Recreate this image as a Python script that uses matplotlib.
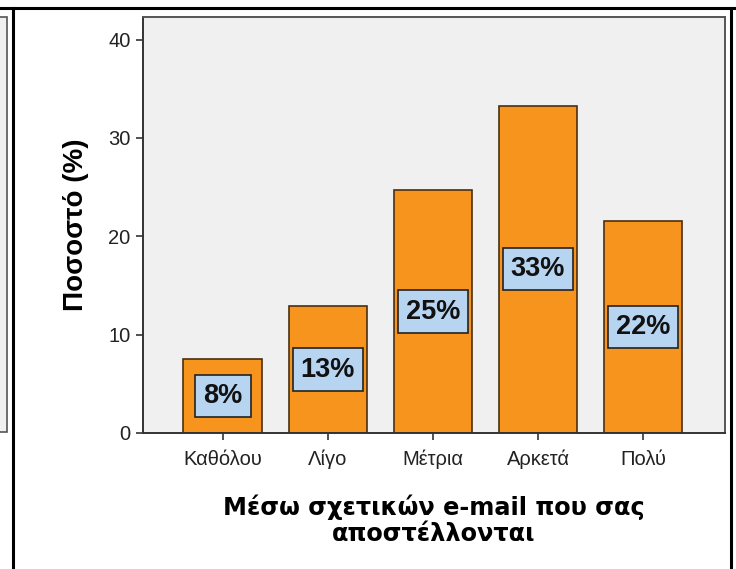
import matplotlib.pyplot as plt
import matplotlib.patches as patches
from matplotlib.lines import Line2D

plt.rcParams['font.family'] = ['Liberation Sans', 'DejaVu Sans']

# data
categories = ["Καθόλου", "Λίγο", "Μέτρια", "Αρκετά", "Πολύ"]
percent = [7.5, 12.9, 24.7, 33.3, 21.6]
labels = ["8%", "13%", "25%", "33%", "22%"]

W, H = 736, 569
fig = plt.figure(figsize=(W / 100, H / 100), dpi=100)
fig.patch.set_facecolor("white")

def fx(px):
    return px / W

def fy(py):
    return 1 - py / H

### table cell borders around the chart
fig.add_artist(Line2D([0, 1], [fy(8), fy(8)], color="black", lw=2.2))
fig.add_artist(Line2D([fx(13), fx(13)], [fy(8), 0], color="black", lw=2.2))
fig.add_artist(Line2D([fx(731), fx(731)], [fy(8), 0], color="black", lw=2.2))
# part of the neighbour chart on the left
fig.add_artist(patches.Rectangle((fx(-10), fy(432)), fx(17), fy(17) - fy(432),
                                 facecolor="#f0f0f0", edgecolor="#555555", lw=1.2))

### main axes
ax = fig.add_axes([fx(143), fy(433), fx(725) - fx(143), fy(17) - fy(433)])
ax.set_facecolor("#f0f0f0")

x = range(len(categories))
ax.bar(x, percent, width=0.75, color="#f7941d", edgecolor="#4a3010", lw=1.2, zorder=2)

for i, (v, lab) in enumerate(zip(percent, labels)):
    ax.text(i, v / 2, lab, ha="center", va="center", fontsize=19.5, fontweight="bold",
            color="#111111", zorder=3,
            bbox=dict(boxstyle="square,pad=0.3", facecolor="#b7d4f0",
                      edgecolor="#222222", lw=1.2))

ax.set_xlim(-0.76, 4.78)
ax.set_ylim(0, 42.3)
ax.set_yticks([0, 10, 20, 30, 40])
ax.set_xticks(list(x))
ax.set_xticklabels(categories)
ax.tick_params(axis="both", direction="out", length=5, width=1.2, color="#333333",
               labelsize=14.5, labelcolor="#222222")
ax.tick_params(axis="x", pad=7)
ax.tick_params(axis="y", pad=4)

for side in ["left", "bottom"]:
    ax.spines[side].set_color("#333333")
    ax.spines[side].set_linewidth(1.4)
for side in ["top", "right"]:
    ax.spines[side].set_color("#555555")
    ax.spines[side].set_linewidth(1.4)

ax.set_ylabel("Ποσοστό (%)", fontsize=20, fontweight="bold", labelpad=14)
ax.set_xlabel("Μέσω σχετικών e-mail που σας\nαποστέλλονται", fontsize=17.3,
              fontweight="bold", labelpad=18, linespacing=1.1,
              family=["DejaVu Sans"])

fig.savefig("out.png", dpi=100)
